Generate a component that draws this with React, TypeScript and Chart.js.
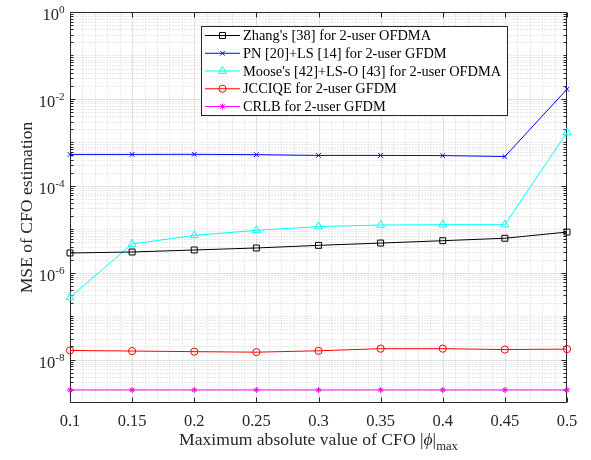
import React, { useEffect, useRef } from "react";
import { Chart, registerables } from "chart.js";

Chart.register(...registerables);

// ---------- data ----------
const cfoMax = [0.1, 0.15, 0.2, 0.25, 0.3, 0.35, 0.4, 0.45, 0.5];
const xTickLabels = ["0.1", "0.15", "0.2", "0.25", "0.3", "0.35", "0.4", "0.45", "0.5"];
const yTickExponents = [0, -2, -4, -6, -8];

const zhangOfdma = [2.84e-6, 2.99e-6, 3.33e-6, 3.7e-6, 4.25e-6, 4.8e-6, 5.44e-6, 6.2e-6, 8.6e-6];
const pnLsGfdm = [5.27e-4, 5.27e-4, 5.3e-4, 5.2e-4, 5.0e-4, 5.0e-4, 4.95e-4, 4.73e-4, 1.67e-2];
const mooseLsoOfdma = [2.7e-7, 4.57e-6, 7.2e-6, 9.4e-6, 1.15e-5, 1.25e-5, 1.27e-5, 1.27e-5, 1.68e-3];
const jcciqeGfdm = [1.62e-8, 1.57e-8, 1.52e-8, 1.48e-8, 1.59e-8, 1.78e-8, 1.78e-8, 1.7e-8, 1.74e-8];
const crlbGfdm = [2.0e-9, 2.0e-9, 2.0e-9, 2.0e-9, 2.0e-9, 2.0e-9, 2.0e-9, 2.0e-9, 2.0e-9];

const seriesLabels = [
  "Zhang's [38] for 2-user OFDMA",
  "PN [20]+LS [14] for 2-user GFDM",
  "Moose's [42]+LS-O [43] for 2-user OFDMA",
  "JCCIQE for 2-user GFDM",
  "CRLB for 2-user GFDM",
];
const seriesValues = [zhangOfdma, pnLsGfdm, mooseLsoOfdma, jcciqeGfdm, crlbGfdm];
const seriesColors = ["#000000", "#0000ff", "#00ffff", "#ff0000", "#ff00ff"];
const seriesMarkers = ["rect", "crossRot", "triangle", "circle", "star"];
const markerRadius = [4.2, 3.3, 4.6, 3.6, 3.0];

const FONT = '"Liberation Serif", "Times New Roman", serif';
const TICK_FONT = 16.5;
const LABEL_FONT = 17.6;
const LEGEND_FONT = 14.4;

function drawMarker(ctx: CanvasRenderingContext2D, style: string, x: number, y: number, r: number, color: string) {
  ctx.save();
  ctx.strokeStyle = color;
  ctx.lineWidth = 1;
  ctx.setLineDash([]);
  ctx.beginPath();
  const s = Math.SQRT1_2 * r;
  switch (style) {
    case "rect":
      ctx.rect(x - s, y - s, 2 * s, 2 * s);
      break;
    case "crossRot":
      ctx.moveTo(x - s, y - s);
      ctx.lineTo(x + s, y + s);
      ctx.moveTo(x + s, y - s);
      ctx.lineTo(x - s, y + s);
      break;
    case "triangle": {
      let rad = 0;
      ctx.moveTo(x + Math.sin(rad) * r, y - Math.cos(rad) * r);
      rad += (2 * Math.PI) / 3;
      ctx.lineTo(x + Math.sin(rad) * r, y - Math.cos(rad) * r);
      rad += (2 * Math.PI) / 3;
      ctx.lineTo(x + Math.sin(rad) * r, y - Math.cos(rad) * r);
      ctx.closePath();
      break;
    }
    case "circle":
      ctx.arc(x, y, r, 0, Math.PI * 2);
      break;
    case "star":
      ctx.moveTo(x, y - r);
      ctx.lineTo(x, y + r);
      ctx.moveTo(x - r, y);
      ctx.lineTo(x + r, y);
      ctx.moveTo(x - s, y - s);
      ctx.lineTo(x + s, y + s);
      ctx.moveTo(x + s, y - s);
      ctx.lineTo(x - s, y + s);
      break;
  }
  ctx.stroke();
  ctx.restore();
}

const matlabAxes = {
  id: "matlabAxes",
  beforeDatasetsDraw(chart: any) {
    const { ctx, chartArea: a, scales } = chart;
    const xs = scales.x;
    const ys = scales.y;
    const L = Math.round(a.left) + 0.5;
    const R = Math.round(a.right) - 0.5;
    const T = Math.round(a.top) + 0.5;
    const B = Math.round(a.bottom) - 0.5;
    ctx.save();
    // minor grid (dotted)
    ctx.lineWidth = 1;
    ctx.strokeStyle = "#d2d2d2";
    ctx.setLineDash([1, 2]);
    ctx.beginPath();
    for (let i = 11; i < 50; i++) {
      if (i % 5 === 0) continue;
      const px = Math.round(xs.getPixelForValue(i / 100)) + 0.5;
      ctx.moveTo(px, T);
      ctx.lineTo(px, B);
    }
    const minorY: number[] = [];
    for (let k = -9; k < 0; k++) {
      for (let m = 1; m < 10; m++) {
        if (m === 1 && (k % 2 === 0 || k === -9)) continue;
        minorY.push(m * Math.pow(10, k));
      }
    }
    minorY.forEach((v) => {
      const py = Math.round(ys.getPixelForValue(v)) + 0.5;
      ctx.moveTo(L, py);
      ctx.lineTo(R, py);
    });
    ctx.stroke();
    // major grid (solid)
    ctx.setLineDash([]);
    ctx.strokeStyle = "#e0e0e0";
    ctx.beginPath();
    for (let i = 1; i < cfoMax.length - 1; i++) {
      const px = Math.round(xs.getPixelForValue(cfoMax[i])) + 0.5;
      ctx.moveTo(px, T);
      ctx.lineTo(px, B);
    }
    yTickExponents.forEach((e) => {
      if (e === 0) return;
      const py = Math.round(ys.getPixelForValue(Math.pow(10, e))) + 0.5;
      ctx.moveTo(L, py);
      ctx.lineTo(R, py);
    });
    ctx.stroke();
    // box and ticks
    ctx.strokeStyle = "#262626";
    ctx.beginPath();
    ctx.rect(L, T, R - L, B - T);
    cfoMax.forEach((v) => {
      const px = Math.round(xs.getPixelForValue(v)) + 0.5;
      ctx.moveTo(px, B);
      ctx.lineTo(px, B - 5);
      ctx.moveTo(px, T);
      ctx.lineTo(px, T + 5);
    });
    minorY.forEach((v) => {
      const py = Math.round(ys.getPixelForValue(v)) + 0.5;
      ctx.moveTo(L, py);
      ctx.lineTo(L + 3, py);
      ctx.moveTo(R, py);
      ctx.lineTo(R - 3, py);
    });
    yTickExponents.forEach((e) => {
      const py = Math.round(ys.getPixelForValue(Math.pow(10, e))) + 0.5;
      ctx.moveTo(L, py);
      ctx.lineTo(L + 5, py);
      ctx.moveTo(R, py);
      ctx.lineTo(R - 5, py);
    });
    ctx.stroke();
    ctx.restore();
  },
  afterDraw(chart: any) {
    const { ctx, chartArea: a, scales } = chart;
    const xs = scales.x;
    const ys = scales.y;
    ctx.save();
    ctx.fillStyle = "#262626";
    // x tick labels
    ctx.font = `${TICK_FONT}px ${FONT}`;
    ctx.textAlign = "center";
    ctx.textBaseline = "alphabetic";
    cfoMax.forEach((v, i) => {
      ctx.fillText(xTickLabels[i], xs.getPixelForValue(v), a.bottom + 22.5);
    });
    // y tick labels 10^e
    ctx.textAlign = "left";
    yTickExponents.forEach((e) => {
      const py = ys.getPixelForValue(Math.pow(10, e));
      const expStr = String(e);
      ctx.font = `${TICK_FONT * 0.68}px ${FONT}`;
      const wExp = ctx.measureText(expStr).width;
      ctx.font = `${TICK_FONT}px ${FONT}`;
      const wBase = ctx.measureText("10").width;
      const right = a.left - 5.5;
      const x0 = right - wExp - wBase;
      ctx.fillText("10", x0, py + 8);
      ctx.font = `${TICK_FONT * 0.68}px ${FONT}`;
      ctx.fillText(expStr, x0 + wBase, py + 1);
    });
    // x title with |phi|_max
    const parts = [
      { t: "Maximum absolute value of CFO |", f: `${LABEL_FONT}px ${FONT}`, dy: 0 },
      { t: "\u03D5", f: `italic ${LABEL_FONT}px ${FONT}`, dy: 0 },
      { t: "|", f: `${LABEL_FONT}px ${FONT}`, dy: 0 },
      { t: "max", f: `${LABEL_FONT * 0.72}px ${FONT}`, dy: 5 },
    ];
    let total = 0;
    const widths = parts.map((p) => {
      ctx.font = p.f;
      const w = ctx.measureText(p.t).width;
      total += w;
      return w;
    });
    let cx = (a.left + a.right) / 2 - total / 2;
    const baseY = a.bottom + 42;
    parts.forEach((p, i) => {
      ctx.font = p.f;
      ctx.fillText(p.t, cx, baseY + p.dy);
      cx += widths[i];
    });
    // y title
    ctx.save();
    ctx.translate(32, (a.top + a.bottom) / 2);
    ctx.rotate(-Math.PI / 2);
    ctx.font = `${LABEL_FONT}px ${FONT}`;
    ctx.textAlign = "center";
    ctx.textBaseline = "alphabetic";
    ctx.fillText("MSE of CFO estimation", 0, 0);
    ctx.restore();
    // legend
    const bx = 201.5, by = 26.5, bw = 306, bh = 89;
    ctx.fillStyle = "#ffffff";
    ctx.fillRect(bx, by, bw, bh);
    ctx.strokeStyle = "#262626";
    ctx.lineWidth = 1;
    ctx.setLineDash([]);
    ctx.strokeRect(bx, by, bw, bh);
    ctx.font = `${LEGEND_FONT}px ${FONT}`;
    ctx.textAlign = "left";
    ctx.textBaseline = "alphabetic";
    seriesLabels.forEach((lab, i) => {
      const ry = 35.5 + i * 17.75;
      ctx.strokeStyle = seriesColors[i];
      ctx.beginPath();
      ctx.moveTo(205, ry);
      ctx.lineTo(240, ry);
      ctx.stroke();
      drawMarker(ctx, seriesMarkers[i], 222.5, ry, markerRadius[i], seriesColors[i]);
      ctx.fillStyle = "#000000";
      ctx.fillText(lab, 243, ry + 4.7);
    });
    ctx.restore();
  },
};

export default function App() {
  const canvasRef = useRef<HTMLCanvasElement | null>(null);
  useEffect(() => {
    if (!canvasRef.current) return;
    const datasets = seriesLabels.map((label, i) => ({
      label,
      data: cfoMax.map((x, j) => ({ x, y: seriesValues[i][j] })),
      borderColor: seriesColors[i],
      backgroundColor: "rgba(0,0,0,0)",
      borderWidth: 1,
      pointStyle: seriesMarkers[i] as any,
      pointRadius: markerRadius[i],
      pointBorderColor: seriesColors[i],
      pointBackgroundColor: "rgba(0,0,0,0)",
      pointBorderWidth: 1,
      tension: 0,
      fill: false,
      clip: false as any,
    }));
    const chart = new Chart(canvasRef.current, {
      type: "line",
      data: { datasets },
      options: {
        animation: false,
        responsive: false,
        devicePixelRatio: 1,
        events: [],
        layout: { padding: { left: 70, right: 24, top: 12, bottom: 57 } },
        plugins: { legend: { display: false }, tooltip: { enabled: false } },
        scales: {
          x: { type: "linear", min: 0.1, max: 0.5, display: false },
          y: { type: "logarithmic", min: 1e-9, max: 1, display: false },
        },
      },
      plugins: [matlabAxes],
    });
    return () => chart.destroy();
  }, []);
  return (
    <div style={{ position: "fixed", left: 0, top: 0, width: 591, height: 460, background: "#ffffff" }}>
      <canvas ref={canvasRef} width={591} height={460} style={{ display: "block" }} />
    </div>
  );
}
